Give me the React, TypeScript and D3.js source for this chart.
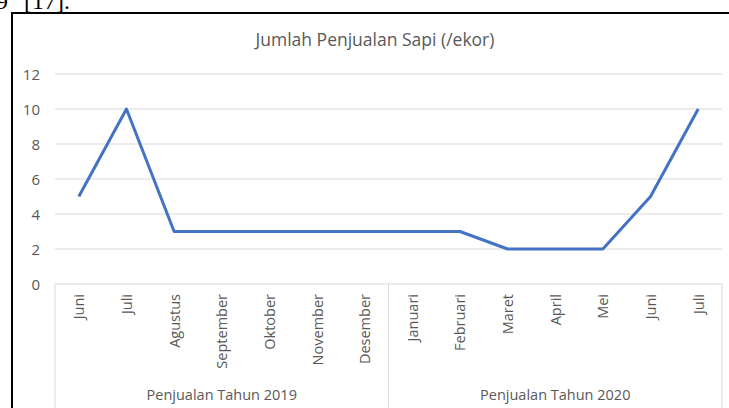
import React from "react";
import * as d3 from "d3";

const months = ["Juni", "Juli", "Agustus", "September", "Oktober", "November", "Desember", "Januari", "Februari", "Maret", "April", "Mei", "Juni", "Juli"];
const sales = [5, 10, 3, 3, 3, 3, 3, 3, 3, 2, 2, 2, 5, 10];
const groups = ["Penjualan Tahun 2019", "Penjualan Tahun 2020"];
const groupSizes = [7, 7];
const yTicks = [0, 2, 4, 6, 8, 10, 12];
const title = "Jumlah Penjualan Sapi (/ekor)";

const W = 729, H = 408;
const FONT = "'Open Sans', sans-serif";
const TXT = "#595959";
const GRID = "#d9d9d9";

export default function App() {
  const idx = months.map((_, i) => i);
  const x = d3.scaleBand<number>().domain(idx).range([55, 722]).paddingInner(0).paddingOuter(0);
  const y = d3.scaleLinear().domain([0, 12]).range([284, 74]);
  const line = d3.line<number>().x((_, i) => x(i)! + x.bandwidth() / 2).y((d) => y(d));

  const seps: number[] = [x(0)!];
  let acc = 0;
  groupSizes.forEach((n) => { acc += n; seps.push(acc < months.length ? x(acc)! : x.range()[1]); });

  return (
    <svg width={W} height={H} style={{ position: "absolute", left: 0, top: 0 }}>
      <rect x={0} y={0} width={W} height={H} fill="#fff" />
      <text x={8} y={9} textAnchor="end" fontFamily="'Liberation Serif', serif" fontSize={24} fill="#000">9</text>
      <text x={24} y={9} fontFamily="'Liberation Serif', serif" fontSize={24} fill="#000">[17].</text>
      <rect x={12} y={13} width={800} height={500} fill="#fff" stroke="#000" strokeWidth={2} />
      <text x={375} y={39} textAnchor="middle" dominantBaseline="central" fontFamily={FONT} fontSize={17.5} fill={TXT}>{title}</text>
      {yTicks.map((t) => (
        <g key={t}>
          <line x1={55} x2={722} y1={y(t)} y2={y(t)} stroke={GRID} strokeWidth={1} />
          <text x={40} y={y(t)} textAnchor="end" dominantBaseline="central" fontFamily={FONT} fontSize={15} fill={TXT}>{t}</text>
        </g>
      ))}
      {seps.map((s, i) => (
        <line key={i} x1={s} x2={s} y1={284} y2={408} stroke={GRID} strokeWidth={1} />
      ))}
      {months.map((m, i) => {
        const cx = x(i)! + x.bandwidth() / 2;
        return (
          <text key={i} transform={`translate(${cx},294) rotate(-90)`} textAnchor="end" dominantBaseline="central" fontFamily={FONT} fontSize={14.5} fill={TXT}>{m}</text>
        );
      })}
      {groups.map((g, i) => (
        <text key={g} x={(seps[i] + seps[i + 1]) / 2} y={394} textAnchor="middle" dominantBaseline="central" fontFamily={FONT} fontSize={14.5} fill={TXT}>{g}</text>
      ))}
      <path d={line(sales) || ""} fill="none" stroke="#4472C4" strokeWidth={3} strokeLinejoin="round" />
    </svg>
  );
}
